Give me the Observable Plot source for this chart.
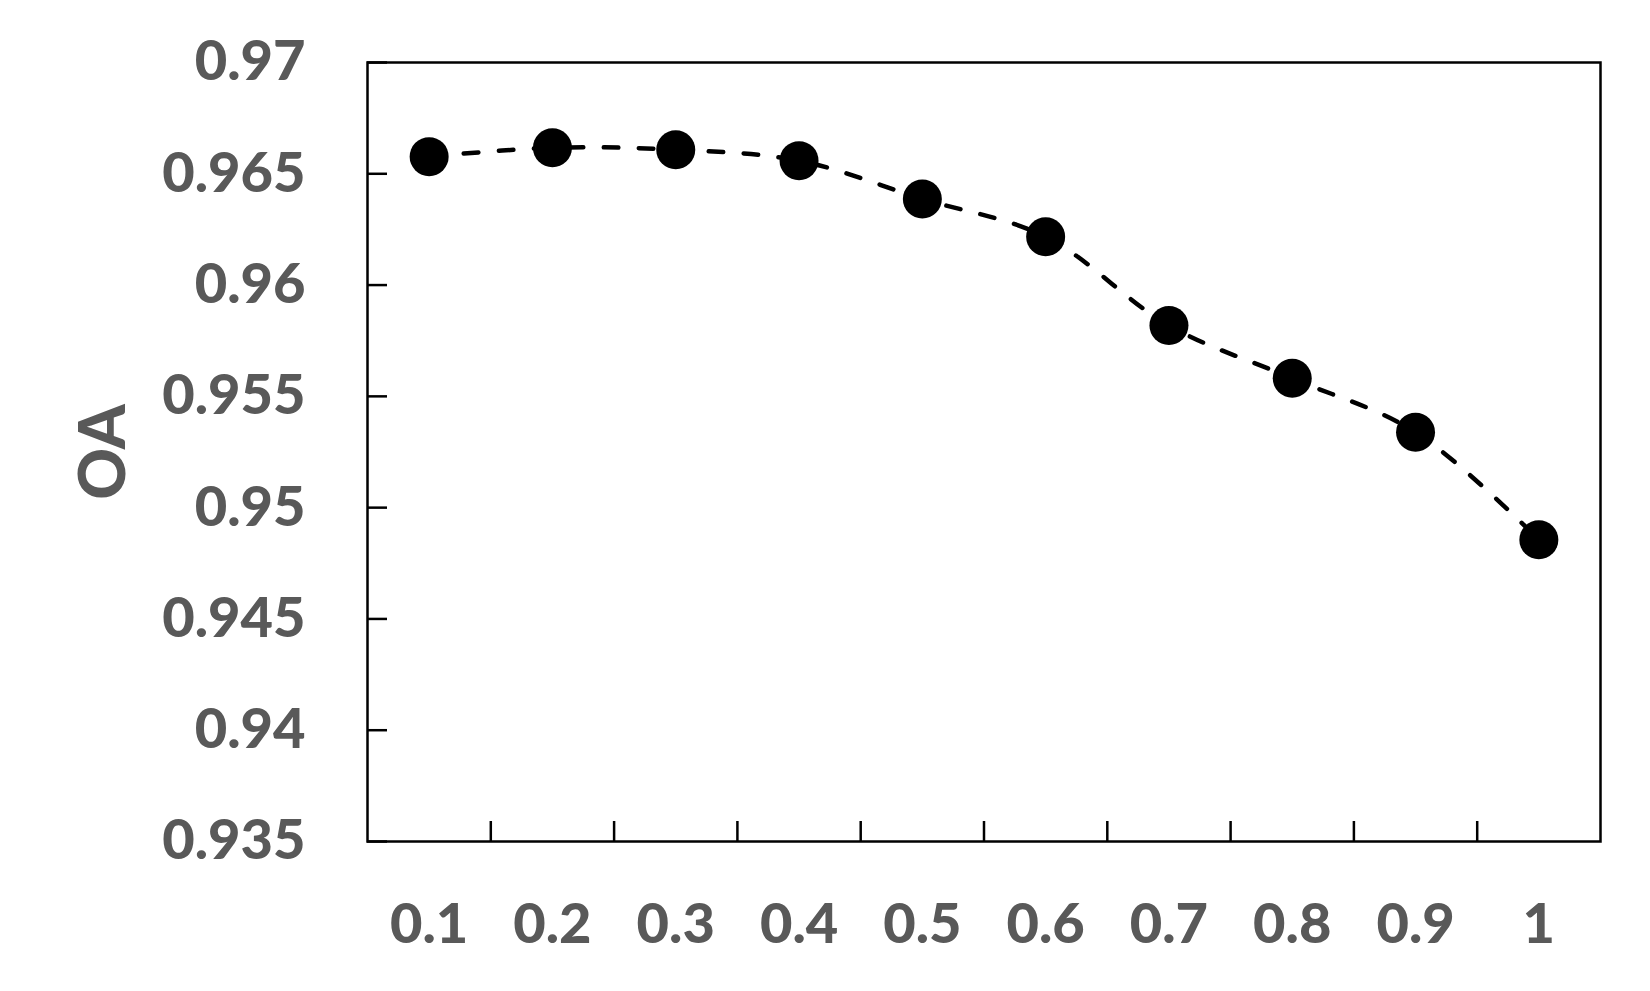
<!DOCTYPE html>
<html>
<head>
<meta charset="utf-8">
<script src="https://cdn.jsdelivr.net/npm/d3@7"></script>
<script src="https://cdn.jsdelivr.net/npm/@observablehq/plot@0.6"></script>
<style>
  html, body { margin: 0; padding: 0; background: #fff; }
  #chart svg { display: block; }
</style>
</head>
<body>
<div id="chart"></div>
<script>
// Data
const categories = [0.1, 0.2, 0.3, 0.4, 0.5, 0.6, 0.7, 0.8, 0.9, 1.0];
const categoryLabels = ["0.1", "0.2", "0.3", "0.4", "0.5", "0.6", "0.7", "0.8", "0.9", "1"];
const oaValues = [0.96577, 0.96617, 0.96608, 0.96559, 0.96387, 0.96217, 0.95818, 0.95581, 0.95339, 0.94856];
const yTicks = [0.935, 0.94, 0.945, 0.95, 0.955, 0.96, 0.965, 0.97];
const yTickLabels = ["0.935", "0.94", "0.945", "0.95", "0.955", "0.96", "0.965", "0.97"];
const yLabel = "OA";

const data = categories.map((c, i) => ({x: c, y: oaValues[i]}));
// category boundaries (tick marks between categories)
const boundaries = categories.slice(0, -1).map((c, i) => (c + categories[i + 1]) / 2);
const step = categories[1] - categories[0];

const grey = "#595959";
const font = "Lato, 'Open Sans', sans-serif";

const chart = Plot.plot({
  width: 1650,
  height: 991,
  marginLeft: 367,
  marginRight: 50,
  marginTop: 62,
  marginBottom: 150,
  style: {fontFamily: font, background: "#fff"},
  x: {domain: [categories[0] - step / 2, categories[categories.length - 1] + step / 2]},
  y: {domain: [yTicks[0], yTicks[yTicks.length - 1]]},
  marks: [
    Plot.frame({stroke: "#000", strokeWidth: 2.5}),
    // inward tick marks on y axis
    Plot.axisY(yTicks, {tickSize: -20, tickFormat: () => "", stroke: "#000", strokeWidth: 2.5, label: null}),
    // y tick labels
    Plot.axisY(yTicks, {
      tickSize: 0, tickPadding: 62,
      tickFormat: (d) => yTickLabels[yTicks.indexOf(d)],
      fontSize: 56, fontWeight: 900, fill: grey, label: null
    }),
    // inward tick marks between categories
    Plot.axisX(boundaries, {tickSize: -20, tickFormat: () => "", stroke: "#000", strokeWidth: 2.5, label: null}),
    // category labels
    Plot.axisX(categories, {
      tickSize: 0, tickPadding: 62,
      tickFormat: (d) => categoryLabels[categories.indexOf(d)],
      fontSize: 56, fontWeight: 900, fill: grey, label: null
    }),
    Plot.line(data, {
      x: "x", y: "y", curve: "catmull-rom",
      stroke: "#000", strokeWidth: 4.5, strokeDasharray: "14.5,20.5", strokeLinecap: "round"
    }),
    Plot.dot(data, {x: "x", y: "y", r: 19.5, fill: "#000", stroke: "none"}),
    Plot.text([yLabel], {
      frameAnchor: "left", dx: -263, rotate: -90, text: (d) => d, textAnchor: "middle",
      fontSize: 64, fontWeight: 900, fill: grey
    })
  ]
});

document.getElementById("chart").appendChild(chart);
</script>
</body>
</html>
